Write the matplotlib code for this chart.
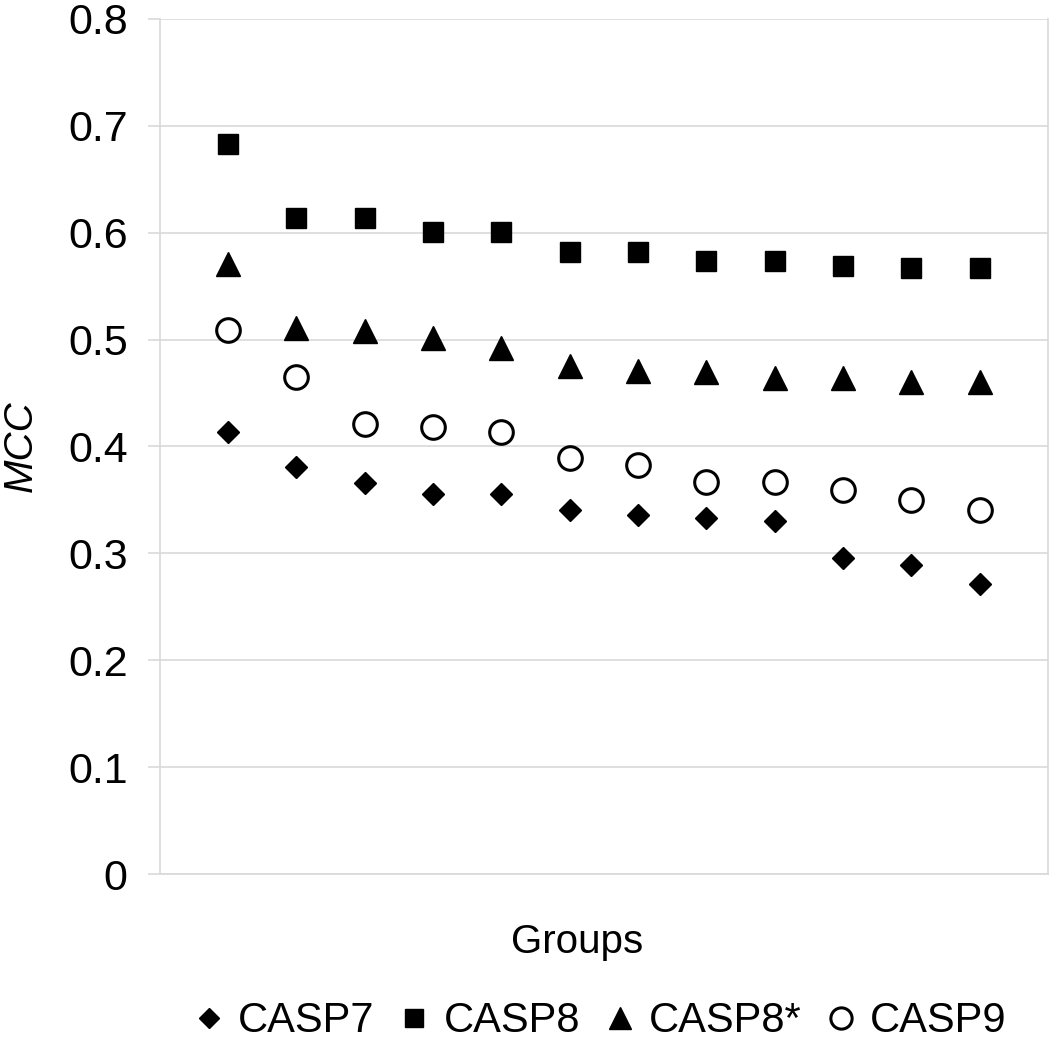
import matplotlib
matplotlib.use("Agg")
import matplotlib.pyplot as plt

plt.rcParams['font.family'] = ['Liberation Sans', 'DejaVu Sans']

groups = list(range(1, 13))
casp7 = [0.414, 0.381, 0.366, 0.356, 0.356, 0.341, 0.336, 0.333, 0.330, 0.296, 0.289, 0.271]
casp8 = [0.683, 0.614, 0.614, 0.601, 0.601, 0.582, 0.582, 0.573, 0.573, 0.569, 0.567, 0.567]
casp8s = [0.571, 0.511, 0.508, 0.501, 0.492, 0.475, 0.471, 0.470, 0.464, 0.464, 0.460, 0.460]
casp9 = [0.509, 0.465, 0.421, 0.418, 0.414, 0.389, 0.383, 0.367, 0.367, 0.359, 0.350, 0.341]
yticks = [0, 0.1, 0.2, 0.3, 0.4, 0.5, 0.6, 0.7, 0.8]
ytick_labels = ['0', '0.1', '0.2', '0.3', '0.4', '0.5', '0.6', '0.7', '0.8']

fig = plt.figure(figsize=(10.5, 10.42), dpi=100)
ax = fig.add_axes([0.152, 0.161, 0.846, 0.821])

grid_c = '#d9d9d9'
ax.plot(groups, casp7, linestyle='none', marker='D', markersize=11, color='black', label='CASP7')
ax.plot(groups, casp8, linestyle='none', marker='s', markersize=14, color='black', label='CASP8')
ax.plot(groups, casp8s, linestyle='none', marker='^', markersize=17, color='black', label='CASP8*')
ax.plot(groups, casp9, linestyle='none', marker='o', markersize=17, markerfacecolor='white',
        markeredgecolor='black', markeredgewidth=2.2, label='CASP9')

ax.set_xlim(0, 13)
ax.set_ylim(0, 0.8)
ax.set_yticks(yticks)
ax.set_yticklabels(ytick_labels, fontsize=31)
ax.set_xticks([])
ax.yaxis.grid(True, color=grid_c, linewidth=1.2)
ax.set_axisbelow(True)
ax.tick_params(axis='y', length=9, color=grid_c, width=1.2, pad=14)
for side in ['left', 'right', 'bottom']:
    ax.spines[side].set_color(grid_c)
    ax.spines[side].set_linewidth(1.2)
ax.spines['top'].set_visible(False)

ax.set_xlabel('Groups', fontsize=29)
ax.xaxis.set_label_coords(0.47, -0.057)
ax.xaxis.label.set_va('top')
ax.set_ylabel('MCC', fontsize=29, style='italic')
ax.yaxis.set_label_coords(-0.135, 0.5)

fig.legend(loc='center', bbox_to_anchor=(0.57, 0.02), ncol=4, frameon=False,
           fontsize=30, handletextpad=0.25, columnspacing=0.5, handlelength=0.9,
           markerscale=0.9)

plt.savefig('out.png', dpi=100)
